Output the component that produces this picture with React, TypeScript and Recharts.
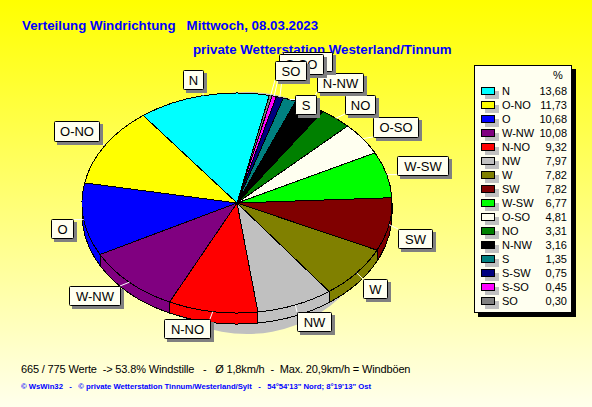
import { PieChart, Pie, Legend } from 'recharts'

const directions = ['N', 'O-NO', 'O', 'W-NW', 'N-NO', 'NW', 'W', 'SW', 'W-SW', 'O-SO', 'NO', 'N-NW', 'S', 'S-SW', 'S-SO', 'SO']
const shares = [13.68, 11.73, 10.68, 10.08, 9.32, 7.97, 7.82, 7.82, 6.77, 4.81, 3.31, 3.16, 1.35, 0.75, 0.45, 0.3]
const shareLabels = ['13,68', '11,73', '10,68', '10,08', '9,32', '7,97', '7,82', '7,82', '6,77', '4,81', '3,31', '3,16', '1,35', '0,75', '0,45', '0,30']
const colors = ['#00ffff', '#ffff00', '#0000ff', '#800080', '#ff0000', '#c0c0c0', '#808000', '#800000', '#00ff00', '#fffff0', '#008000', '#000000', '#008080', '#000080', '#ff00ff', '#808080']

const rows = directions.map((name, i) => ({ name, value: shares[i], fill: colors[i] }))
const shadowRows = [{ name: 'shadow', value: 100 }]

// x, y, w, h of the callout boxes, same order as directions
const labelBoxes = [
  [183, 70, 20, 19], [54, 121, 45, 20], [51, 219, 22, 19], [69, 286, 51, 19],
  [164, 319, 46, 19], [297, 312, 34, 19], [363, 279, 24, 19], [398, 229, 34, 19],
  [397, 156, 51, 19], [373, 117, 45, 20], [345, 95, 30, 19], [317, 73, 46, 19],
  [295, 95, 21, 19], [283, 52, 49, 19], [279, 54, 44, 20], [275, 61, 31, 19],
]

const CX = 237
const CY = 203
const RX = 155
const RY = 110
const DEPTH = 11
const FONT = '"Liberation Sans", Arial, sans-serif'

const rad = (deg: number) => (deg * Math.PI) / 180
const rimX = (a: number, cx: number, rx: number) => cx + rx * Math.cos(rad(a))
const rimY = (a: number, cy: number, ry: number) => cy - ry * Math.sin(rad(a))

// recharts only does circles, so the sectors are squashed here
function TopSlice(props: any) {
  const { cx, cy, outerRadius, startAngle, endAngle, fill } = props
  const ry = (outerRadius * RY) / RX
  const large = Math.abs(endAngle - startAngle) > 180 ? 1 : 0
  const d = `M${cx} ${cy}L${rimX(startAngle, cx, outerRadius)} ${rimY(startAngle, cy, ry)}A${outerRadius} ${ry} 0 ${large} 0 ${rimX(endAngle, cx, outerRadius)} ${rimY(endAngle, cy, ry)}Z`
  return <path d={d} fill={fill} stroke="#000" strokeWidth={1} shapeRendering="crispEdges" />
}

// side wall, only the front half of the ellipse shows
function WallSlice(props: any) {
  const { cx, cy, outerRadius, startAngle, endAngle, fill } = props
  const a0 = Math.max(startAngle, 180)
  const a1 = Math.min(endAngle, 360)
  if (a0 >= a1) return <g />
  const ry = (outerRadius * RY) / RX
  const x0 = rimX(a0, cx, outerRadius)
  const x1 = rimX(a1, cx, outerRadius)
  const y0 = rimY(a0, cy, ry)
  const y1 = rimY(a1, cy, ry)
  const d = `M${x0} ${y0}L${x0} ${y0 + DEPTH}A${outerRadius} ${ry} 0 0 0 ${x1} ${y1 + DEPTH}L${x1} ${y1}A${outerRadius} ${ry} 0 0 1 ${x0} ${y0}Z`
  return <path d={d} fill={fill} stroke="#000" strokeWidth={1} shapeRendering="crispEdges" />
}

function ShadowDisc(props: any) {
  const { cx, cy } = props
  return <ellipse cx={cx} cy={cy} rx={130} ry={121} fill="#c0c0c0" />
}

function renderCallout(props: any) {
  const { index, midAngle, startAngle, endAngle } = props
  const mid = midAngle ?? (startAngle + endAngle) / 2
  const [x, y, w, h] = labelBoxes[index]
  const px = rimX(mid, CX, RX)
  const py = rimY(mid, CY, RY)
  const ex = Math.min(Math.max(px, x), x + w)
  const ey = Math.min(Math.max(py, y), y + h)
  return (
    <g key={index}>
      <line x1={px} y1={py} x2={ex} y2={ey} stroke="#fff" strokeWidth={1} />
      <rect x={x + 3} y={y + 3} width={w + 1} height={h + 1} fill="#808080" />
      <rect x={x + 0.5} y={y + 0.5} width={w} height={h} rx={1} fill="#fffff0" stroke="#000" strokeWidth={1} />
      <text x={x + w / 2 + 0.5} y={y + 15} textAnchor="middle" fontFamily={FONT} fontSize={13} fill="#000">
        {directions[index]}
      </text>
    </g>
  )
}

function LegendBox() {
  return (
    <div style={{ position: 'relative', width: 96, height: 246, background: '#fffff0', border: '1px solid #000', boxShadow: '4px 4px 0 #000', fontFamily: FONT, fontSize: 11, color: '#000' }}>
      <div style={{ position: 'absolute', left: 78, top: 3 }}>%</div>
      {directions.map((name, i) => (
        <div key={name} style={{ position: 'absolute', left: 0, top: 18 + i * 13.97, width: 96, height: 14 }}>
          <div style={{ position: 'absolute', left: 6, top: 3, width: 12, height: 6, background: colors[i], border: '1px solid #000', boxShadow: '4px 4px 0 #c0c0c0' }} />
          <div style={{ position: 'absolute', left: 27, top: 0, lineHeight: '14px' }}>{name}</div>
          <div style={{ position: 'absolute', right: 4, top: 0, lineHeight: '14px' }}>{shareLabels[i]}</div>
        </div>
      ))}
    </div>
  )
}

const titleStyle = { position: 'absolute', fontFamily: FONT, fontWeight: 700, fontSize: 13.3, color: '#0000ff', whiteSpace: 'pre', lineHeight: '16px' } as const

export default function App() {
  return (
    <div style={{ position: 'absolute', left: 0, top: 0, width: 592, height: 407, overflow: 'hidden', background: 'linear-gradient(#ffff00, #ffffff 108%)' }}>
      <div style={{ ...titleStyle, left: 22, top: 18 }}>{'Verteilung Windrichtung   Mittwoch, 08.03.2023'}</div>
      <div style={{ ...titleStyle, left: 193, top: 42 }}>private Wetterstation Westerland/Tinnum</div>
      <div style={{ position: 'absolute', left: 21, top: 362, fontFamily: FONT, fontSize: 11, letterSpacing: -0.15, color: '#000', whiteSpace: 'pre', lineHeight: '14px' }}>
        {'665 / 775 Werte  -> 53.8% Windstille   -   Ø 1,8km/h  -  Max. 20,9km/h = Windböen'}
      </div>
      <div style={{ position: 'absolute', left: 21, top: 381, fontFamily: FONT, fontWeight: 700, fontSize: 7.7, color: '#0000ff', whiteSpace: 'pre', lineHeight: '12px' }}>
        {'© WsWin32   -   © private Wetterstation Tinnum/Westerland/Sylt   -   54°54\'13" Nord; 8°19\'13" Ost'}
      </div>
      <div style={{ position: 'absolute', left: 0, top: 0 }}>
        <PieChart width={592} height={407} margin={{ top: 0, right: 0, bottom: 0, left: 0 }}>
          <Pie data={shadowRows} dataKey="value" cx={247} cy={213} outerRadius={130} startAngle={0} endAngle={360} shape={ShadowDisc} label={false} labelLine={false} legendType="none" isAnimationActive={false} />
          <Pie data={rows} dataKey="value" cx={CX} cy={CY} outerRadius={RX} startAngle={78} endAngle={438} shape={WallSlice} label={false} labelLine={false} legendType="none" isAnimationActive={false} />
          <Pie data={rows} dataKey="value" cx={CX} cy={CY} outerRadius={RX} startAngle={78} endAngle={438} shape={TopSlice} label={renderCallout} labelLine={false} isAnimationActive={false} />
          <Legend content={LegendBox} layout="vertical" align="right" verticalAlign="top" wrapperStyle={{ left: 474, top: 65, width: 98, right: 'auto', bottom: 'auto' }} />
        </PieChart>
      </div>
    </div>
  )
}
